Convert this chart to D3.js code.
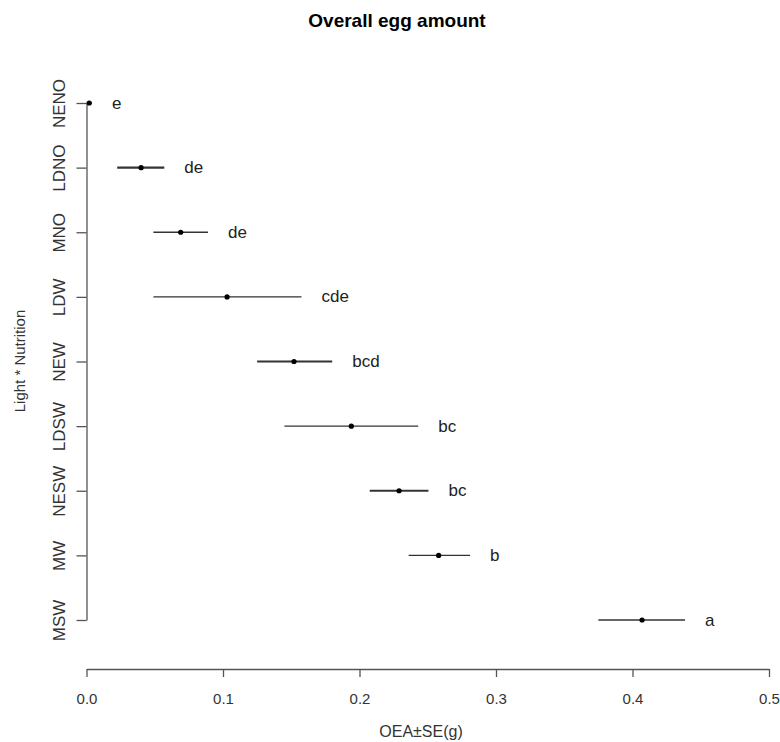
<!DOCTYPE html>
<html>
<head>
<meta charset="UTF-8">
<title>Overall egg amount</title>
<style>
  body { margin: 0; background: #fff; }
  svg text { font-family: "Liberation Sans", Arial, sans-serif; fill: #222; }
  .axis path, .axis line { stroke: #555; stroke-width: 1.3; }
  .axis text { font-size: 15px; fill: #333; }
</style>
</head>
<body>
<div id="chart"></div>
<script src="https://d3js.org/d3.v7.min.js"></script>
<script>
// data
const groups = ["NENO", "LDNO", "MNO", "LDW", "NEW", "LDSW", "NESW", "MW", "MSW"];
const means  = [0.002, 0.040, 0.069, 0.103, 0.152, 0.194, 0.229, 0.258, 0.407];
const lowers = [0.000, 0.0225, 0.049, 0.049, 0.125, 0.145, 0.2075, 0.236, 0.375];
const uppers = [0.004, 0.057, 0.089, 0.1575, 0.180, 0.243, 0.2505, 0.281, 0.4385];
const letters = ["e", "de", "de", "cde", "bcd", "bc", "bc", "b", "a"];
const thick = [false, true, false, false, true, false, true, false, false];
const xTicks = [0, 0.1, 0.2, 0.3, 0.4, 0.5];

const width = 780, height = 742;
const svg = d3.select("#chart").append("svg")
  .attr("width", width)
  .attr("height", height);

const x = d3.scaleLinear().domain([0, 0.5]).range([86.5, 769]);
const y = d3.scalePoint().domain(groups).range([103, 620]).padding(0);

const rows = groups.map((g, i) => ({
  g, m: means[i], lo: lowers[i], hi: uppers[i], lab: letters[i], thick: thick[i]
}));

// y axis (drawn only between first and last tick, R style)
const yAxis = svg.append("g")
  .attr("class", "axis")
  .attr("transform", "translate(86.5,0)")
  .call(d3.axisLeft(y).tickSize(10).tickSizeOuter(0).tickPadding(0));
yAxis.selectAll(".tick text")
  .attr("x", -27)
  .attr("dy", 0)
  .style("font-size", "17px")
  .attr("text-anchor", "middle")
  .attr("transform", "rotate(-90, -27, 0)")
  .attr("dominant-baseline", "central");

// x axis
svg.append("g")
  .attr("class", "axis")
  .attr("transform", "translate(0,669)")
  .call(d3.axisBottom(x).tickValues(xTicks).tickFormat(d3.format(".1f"))
    .tickSize(8).tickSizeOuter(0).tickPadding(16));

// error bars
svg.append("g").selectAll("line")
  .data(rows)
  .join("line")
  .attr("x1", d => x(d.lo))
  .attr("x2", d => x(d.hi))
  .attr("y1", d => y(d.g))
  .attr("y2", d => y(d.g))
  .attr("stroke", "#333")
  .attr("stroke-width", d => d.thick ? 2.2 : 1.3);

// means
svg.append("g").selectAll("circle")
  .data(rows)
  .join("circle")
  .attr("cx", d => x(d.m))
  .attr("cy", d => y(d.g))
  .attr("r", 2.6)
  .attr("fill", "#000");

// significance letters
svg.append("g").selectAll("text")
  .data(rows)
  .join("text")
  .attr("x", d => x(d.hi) + 20)
  .attr("y", d => y(d.g))
  .attr("dominant-baseline", "central")
  .style("font-size", "17px")
  .text(d => d.lab);

// title
svg.append("text")
  .attr("x", 397)
  .attr("y", 27)
  .attr("text-anchor", "middle")
  .style("font-size", "19px")
  .style("font-weight", "bold")
  .style("fill", "#000")
  .text("Overall egg amount");

// axis titles
svg.append("text")
  .attr("transform", "translate(25,361) rotate(-90)")
  .attr("text-anchor", "middle")
  .style("font-size", "15px")
  .style("fill", "#333")
  .text("Light * Nutrition");

svg.append("text")
  .attr("x", 421)
  .attr("y", 737)
  .attr("text-anchor", "middle")
  .style("font-size", "16px")
  .style("fill", "#333")
  .text("OEA±SE(g)");
</script>
</body>
</html>
